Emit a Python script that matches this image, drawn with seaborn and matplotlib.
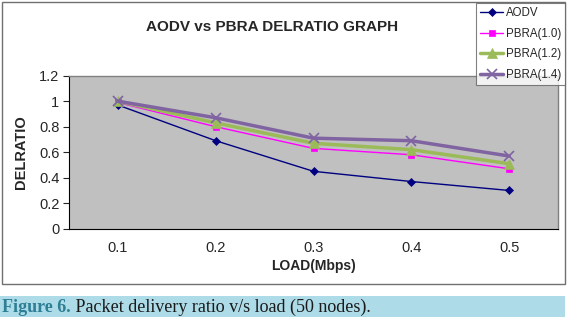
import pandas as pd
import matplotlib
matplotlib.use("Agg")
from matplotlib import pyplot as plt
from matplotlib.patches import Rectangle
import seaborn as sns

loads = ["0.1", "0.2", "0.3", "0.4", "0.5"]
aodv = [0.97, 0.69, 0.45, 0.37, 0.30]
pbra_10 = [0.99, 0.80, 0.63, 0.58, 0.47]
pbra_12 = [1.00, 0.83, 0.67, 0.62, 0.51]
pbra_14 = [1.00, 0.87, 0.71, 0.69, 0.57]
series_names = ["AODV", "PBRA(1.0)", "PBRA(1.2)", "PBRA(1.4)"]

title = "AODV vs PBRA DELRATIO GRAPH"
caption_head = "Figure 6."
caption_body = " Packet delivery ratio v/s load (50 nodes)."

sns.set_style("white")
plt.rcParams["font.family"] = ["Liberation Sans", "DejaVu Sans"]

df = pd.DataFrame({
    "load": loads * 4,
    "ratio": aodv + pbra_10 + pbra_12 + pbra_14,
    "series": sum([[n] * len(loads) for n in series_names], []),
})

colors = {"AODV": "#000080", "PBRA(1.0)": "#FF00FF",
          "PBRA(1.2)": "#9BBB59", "PBRA(1.4)": "#8064A2"}
markers = {"AODV": "D", "PBRA(1.0)": "s", "PBRA(1.2)": "^", "PBRA(1.4)": "x"}
widths = {"AODV": 1.0, "PBRA(1.0)": 1.0, "PBRA(1.2)": 2.5, "PBRA(1.4)": 2.5}
msizes = {"AODV": 4, "PBRA(1.0)": 5, "PBRA(1.2)": 6.5, "PBRA(1.4)": 7}

W, H = 575, 322
fig = plt.figure(figsize=(W / 100, H / 100), dpi=100)
ax = fig.add_axes([69 / W, 1 - 228.7 / H, (558 - 69) / W, (228.7 - 75.7) / H])
ax.set_facecolor("#C0C0C0")

for name in series_names:
    sub = df[df["series"] == name]
    sns.lineplot(data=sub, x="load", y="ratio", ax=ax, color=colors[name],
                 marker=markers[name], markersize=msizes[name],
                 linewidth=widths[name], markeredgecolor=colors[name],
                 markeredgewidth=1.2 if name == "PBRA(1.4)" else 0.5,
                 sort=False, label=name, legend=False)

ax.set_xlim(-0.5, 4.5)
ax.set_ylim(0, 1.2)
ax.set_yticks([0, 0.2, 0.4, 0.6, 0.8, 1.0, 1.2])
ax.set_yticklabels(["0", "0.2", "0.4", "0.6", "0.8", "1", "1.2"])
ax.set_xticks(range(len(loads)))
ax.set_xticklabels(loads)
ax.set_xticks([i - 0.5 for i in range(len(loads) + 1)], minor=True)
ax.tick_params(axis="x", which="major", length=0, pad=9, labelsize=10.5)
ax.tick_params(axis="x", which="minor", length=4, direction="out", color="black")
ax.tick_params(axis="y", length=4, direction="out", left=True, labelsize=10.5, pad=3)
ax.set_xlabel("LOAD(Mbps)", fontsize=10, fontweight="bold", labelpad=3)
ax.set_ylabel("DELRATIO", fontsize=10.5, fontweight="bold", labelpad=8)
ax.grid(False)
for side in ["left", "bottom"]:
    ax.spines[side].set_color("black")
    ax.spines[side].set_linewidth(0.8)
for side in ["top", "right"]:
    ax.spines[side].set_color("#808080")
    ax.spines[side].set_linewidth(1.0)

fig.text(272 / W, 1 - 27 / H, title, ha="center", va="center",
         fontsize=11, fontweight="bold")

handles, labels = ax.get_legend_handles_labels()
leg = fig.legend(handles, labels, loc="upper right",
                 bbox_to_anchor=(565 / W, 1 - 3 / H), fontsize=8.3,
                 frameon=True, fancybox=False, edgecolor="#606060",
                 handlelength=2.0, handletextpad=0.2, borderpad=0.35,
                 labelspacing=0.75, borderaxespad=0)
leg.get_frame().set_linewidth(0.8)
leg.set_zorder(10)

# outer chart frame
fig.patches.append(Rectangle((2 / W, 1 - 284 / H), 563 / W, 282 / H,
                             transform=fig.transFigure, fill=False,
                             edgecolor="#707070", linewidth=1.0, zorder=0))
# caption band
fig.patches.append(Rectangle((0, 1 - 317 / H), 565 / W, 21 / H,
                             transform=fig.transFigure, facecolor="#ADDCE8",
                             edgecolor="none", zorder=0))
t1 = fig.text(2 / W, 1 - 307 / H, caption_head, ha="left", va="center",
              fontsize=13, color="#2E7F95", family="Liberation Serif",
              fontweight="bold")
fig.canvas.draw()
bb = t1.get_window_extent()
fig.text(bb.x1 / W, 1 - 307 / H, caption_body, ha="left", va="center",
         fontsize=13, color="#1A1A1A", family="Liberation Serif")

fig.savefig("out.png", dpi=100)
